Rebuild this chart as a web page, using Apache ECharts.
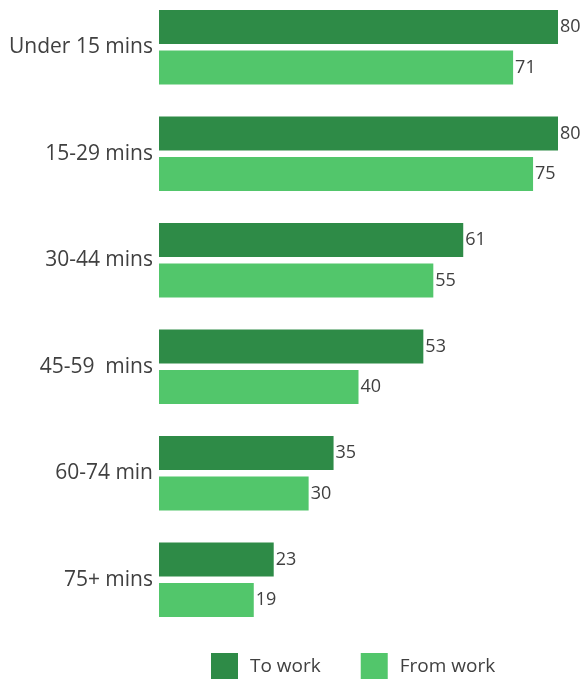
<!DOCTYPE html>
<html><head><meta charset="utf-8">
<script src="https://cdn.jsdelivr.net/npm/echarts@6/dist/echarts.min.js"></script>
<style>html,body{margin:0;padding:0;background:#fff;overflow:hidden}#c{width:583px;height:685px;margin-top:-6px}</style>
</head><body><div id="c"></div>
<script>
const categories = ['Under 15 mins', '15-29 mins', '30-44 mins', '45-59  mins', '60-74 min', '75+ mins'];
const toWork = [80, 80, 61, 53, 35, 23];
const fromWork = [71, 75, 55, 40, 30, 19];
const seriesNames = ['To work', 'From work'];

const chart = echarts.init(document.getElementById('c'), null, {renderer: 'canvas'});
const font = '"Open Sans", sans-serif';
const lbl = {show: true, position: 'right', distance: 2, color: '#404040', fontSize: 18, fontFamily: font};
chart.setOption({
  animation: false,
  grid: {left: 159, right: 25, top: 0, height: 639},
  xAxis: {type: 'value', min: 0, max: 80, show: false},
  yAxis: {type: 'category', data: categories, inverse: true,
    axisLine: {show: false}, axisTick: {show: false},
    axisLabel: {color: '#404040', fontSize: 21, fontFamily: font, margin: 6}},
  legend: {data: seriesNames, left: 211, top: 659, padding: 0, itemWidth: 27, itemHeight: 27, itemGap: 40,
    icon: 'rect', textStyle: {color: '#404040', fontSize: 19, fontFamily: font, padding: [0, 0, 0, 7]}},
  series: [
    {name: seriesNames[0], type: 'bar', data: toWork, barWidth: 34, barGap: '19%',
      itemStyle: {color: '#2e8b47'}, label: lbl},
    {name: seriesNames[1], type: 'bar', data: fromWork, barWidth: 34,
      itemStyle: {color: '#52c66b'}, label: lbl}
  ]
});
</script></body></html>
